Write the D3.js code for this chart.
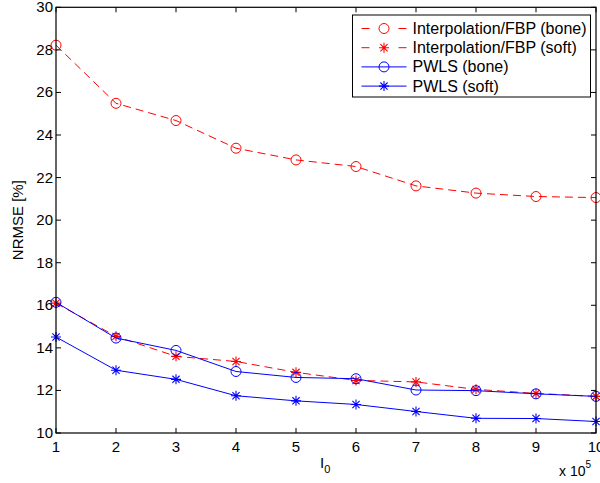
<!DOCTYPE html>
<html>
<head>
<meta charset="utf-8">
<script src="https://cdn.jsdelivr.net/npm/d3@7"></script>
<style>
  body { margin: 0; background: #fff; }
  text { font-family: "Liberation Sans", Arial, sans-serif; fill: #000; }
</style>
</head>
<body>
<script>

// data
var doses = [1, 2, 3, 4, 5, 6, 7, 8, 9, 10];   // I0 in units of 1e5
var fbpBone  = [28.22, 25.49, 24.68, 23.38, 22.83, 22.52, 21.61, 21.27, 21.11, 21.06];
var fbpSoft  = [16.10, 14.54, 13.60, 13.36, 12.85, 12.47, 12.40, 12.05, 11.86, 11.72];
var pwlsBone = [16.14, 14.46, 13.88, 12.89, 12.61, 12.55, 12.02, 11.99, 11.84, 11.72];
var pwlsSoft = [14.51, 12.95, 12.52, 11.75, 11.51, 11.34, 11.01, 10.69, 10.68, 10.54];
var yTicks = [10, 12, 14, 16, 18, 20, 22, 24, 26, 28, 30];

var series = [
  { name: 'Interpolation/FBP (bone)', values: fbpBone,  color: '#ff0000', dash: '8,5', marker: 'circle' },
  { name: 'Interpolation/FBP (soft)', values: fbpSoft,  color: '#ff0000', dash: '8,5', marker: 'star' },
  { name: 'PWLS (bone)',              values: pwlsBone, color: '#0000ff', dash: null,  marker: 'circle' },
  { name: 'PWLS (soft)',              values: pwlsSoft, color: '#0000ff', dash: null,  marker: 'star' }
];

var width = 600, height = 483;
var plotL = 56, plotR = 596, plotT = 7.3, plotB = 433;

var svg = d3.select('body').append('svg')
  .attr('width', width)
  .attr('height', height);

var x = d3.scaleLinear().domain([1, 10]).range([plotL, plotR]);
var y = d3.scaleLinear().domain([10, 30]).range([plotB, plotT]);

// ticks (inward, on all four sides, MATLAB style)
var tickLen = 5;
var axes = svg.append('g').attr('stroke', '#000').attr('stroke-width', 1);

doses.forEach(function (d) {
  axes.append('line')
    .attr('x1', x(d)).attr('x2', x(d))
    .attr('y1', plotB).attr('y2', plotB - tickLen);
  axes.append('line')
    .attr('x1', x(d)).attr('x2', x(d))
    .attr('y1', plotT).attr('y2', plotT + tickLen);
});
yTicks.forEach(function (d) {
  axes.append('line')
    .attr('x1', plotL).attr('x2', plotL + tickLen)
    .attr('y1', y(d)).attr('y2', y(d));
  axes.append('line')
    .attr('x1', plotR).attr('x2', plotR - tickLen)
    .attr('y1', y(d)).attr('y2', y(d));
});

// tick labels
svg.append('g').selectAll('text')
  .data(doses).enter()
  .append('text')
  .attr('x', function (d) { return x(d); })
  .attr('y', plotB + 19)
  .attr('text-anchor', 'middle')
  .attr('font-size', '15px')
  .text(function (d) { return d; });

svg.append('g').selectAll('text')
  .data(yTicks).enter()
  .append('text')
  .attr('x', plotL - 3)
  .attr('y', function (d) { return y(d) + 5; })
  .attr('text-anchor', 'end')
  .attr('font-size', '15px')
  .text(function (d) { return d; });

// axis labels
var xLabel = svg.append('text')
  .attr('x', 320)
  .attr('y', 468)
  .attr('font-size', '15px');
xLabel.append('tspan').text('I');
xLabel.append('tspan').attr('dy', 5).attr('font-size', '11px').text('0');

var expLabel = svg.append('text')
  .attr('x', 559)
  .attr('y', 476)
  .attr('font-size', '14px');
expLabel.append('tspan').text('x 10');
expLabel.append('tspan').attr('dy', -8).attr('font-size', '10px').text('5');

svg.append('text')
  .attr('transform', 'translate(23,' + ((plotT + plotB) / 2) + ') rotate(-90)')
  .attr('text-anchor', 'middle')
  .attr('font-size', '15px')
  .text('NRMSE [%]');

// helpers for markers
function starPath(cx, cy, r) {
  var d = r * 0.72;
  return 'M' + (cx - r) + ',' + cy + 'L' + (cx + r) + ',' + cy +
         'M' + cx + ',' + (cy - r) + 'L' + cx + ',' + (cy + r) +
         'M' + (cx - d) + ',' + (cy - d) + 'L' + (cx + d) + ',' + (cy + d) +
         'M' + (cx - d) + ',' + (cy + d) + 'L' + (cx + d) + ',' + (cy - d);
}

function drawMarker(g, type, cx, cy, color) {
  if (type === 'circle') {
    g.append('circle')
      .attr('cx', cx).attr('cy', cy).attr('r', 5)
      .attr('fill', 'none')
      .attr('stroke', color)
      .attr('stroke-width', 1);
  } else {
    g.append('path')
      .attr('d', starPath(cx, cy, 5))
      .attr('fill', 'none')
      .attr('stroke', color)
      .attr('stroke-width', 1.1);
  }
}

// lines + markers
var line = d3.line()
  .x(function (d, i) { return x(doses[i]); })
  .y(function (d) { return y(d); });

series.forEach(function (s) {
  var g = svg.append('g');
  g.append('path')
    .attr('d', line(s.values))
    .attr('fill', 'none')
    .attr('stroke', s.color)
    .attr('stroke-width', 1)
    .attr('stroke-dasharray', s.dash);
  s.values.forEach(function (v, i) {
    drawMarker(g, s.marker, x(doses[i]), y(v), s.color);
  });
});

// frame
svg.append('rect')
  .attr('x', plotL).attr('y', plotT)
  .attr('width', plotR - plotL).attr('height', plotB - plotT)
  .attr('fill', 'none')
  .attr('stroke', '#000')
  .attr('stroke-width', 1.2);

// legend
var lgX = 352.5, lgY = 15, lgW = 238, lgH = 82;
var legend = svg.append('g');
legend.append('rect')
  .attr('x', lgX).attr('y', lgY)
  .attr('width', lgW).attr('height', lgH)
  .attr('fill', '#fff')
  .attr('stroke', '#000')
  .attr('stroke-width', 1);

series.forEach(function (s, i) {
  var rowY = lgY + 13.5 + i * 19.2;
  legend.append('line')
    .attr('x1', lgX + 9).attr('x2', lgX + 54)
    .attr('y1', rowY).attr('y2', rowY)
    .attr('stroke', s.color)
    .attr('stroke-width', 1)
    .attr('stroke-dasharray', s.dash ? '8,29' : null);
  drawMarker(legend, s.marker, lgX + 31.5, rowY, s.color);
  legend.append('text')
    .attr('x', lgX + 60)
    .attr('y', rowY + 5.5)
    .attr('font-size', '16px')
    .text(s.name);
});

</script>
</body>
</html>
